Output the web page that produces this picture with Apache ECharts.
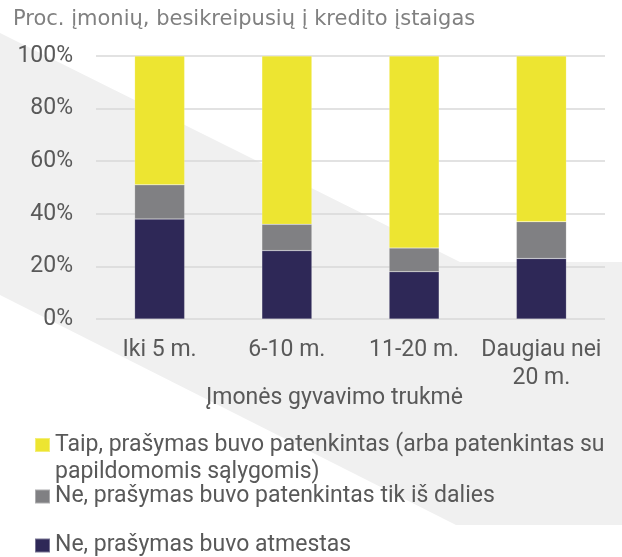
<!DOCTYPE html>
<html>
<head>
<meta charset="utf-8">
<script src="https://cdn.jsdelivr.net/npm/echarts@6/dist/echarts.min.js"></script>
<style>
  html, body { margin: 0; padding: 0; background: #fff; }
  #chart { width: 622px; height: 557px; }
</style>
</head>
<body>
<div id="chart"></div>
<script>
// data
var categories = ["Iki 5 m.", "6-10 m.", "11-20 m.", "Daugiau nei 20 m."];
var yesValues = [49, 64, 73, 63];
var partlyValues = [13, 10, 9, 14];
var rejectedValues = [38, 26, 18, 23];
var yTicks = [0, 20, 40, 60, 80, 100];

var seriesNames = [
  "Taip, prašymas buvo patenkintas (arba patenkintas su papildomomis sąlygomis)",
  "Ne, prašymas buvo patenkintas tik iš dalies",
  "Ne, prašymas buvo atmestas"
];

var font = "Roboto";
var myChart = echarts.init(document.getElementById("chart"));

// one legend per item, so the wrapped first item keeps its icon on line one
function legendAt(name, top) {
  return {
    data: [name],
    orient: "vertical",
    left: 34,
    top: top,
    padding: 0,
    icon: "rect",
    itemWidth: 15,
    itemHeight: 14,
    itemGap: 5,
    selectedMode: false,
    formatter: function (n) {
      if (n.indexOf(" papildomomis") < 0) return n;
      // blank first line keeps the icon level with the first text line
      return "\n" + n.replace(" papildomomis", "\npapildomomis");
    },
    textStyle: {
      fontFamily: font,
      fontSize: 23,
      color: "#595959",
      lineHeight: 27
    }
  };
}

var option = {
  animation: false,
  title: {
    text: "Proc. įmonių, besikreipusių į kredito įstaigas",
    left: 13,
    top: 9,
    padding: 0,
    textStyle: {
      fontFamily: "DejaVu Sans",
      fontSize: 21,
      fontWeight: "normal",
      color: "#808080"
    }
  },
  graphic: [
    {
      type: "polygon",
      z: -10,
      silent: true,
      shape: {
        points: [[0, 33], [460, 262], [622, 262], [622, 525], [456, 525], [0, 295]]
      },
      style: { fill: "#f0f0f0" }
    }
  ],
  legend: [
    legendAt(seriesNames[0], 404.5),
    legendAt(seriesNames[1], 483),
    legendAt(seriesNames[2], 532)
  ],
  grid: {
    left: 96,
    right: 17,
    top: 56,
    bottom: 238,
    containLabel: false
  },
  xAxis: {
    type: "category",
    data: categories,
    axisLine: { show: false },
    axisTick: { show: false },
    name: "Įmonės gyvavimo trukmė",
    nameLocation: "middle",
    nameGap: 68,
    nameMoveOverlap: false,
    nameTextStyle: {
      fontFamily: font,
      fontSize: 23,
      color: "#595959",
      padding: [0, 32, 0, 0]
    },
    axisLabel: {
      fontFamily: font,
      fontSize: 23,
      color: "#595959",
      lineHeight: 28,
      margin: 17,
      interval: 0,
      formatter: function (v) {
        return v.replace("nei ", "nei\n");
      }
    }
  },
  yAxis: {
    type: "value",
    min: yTicks[0],
    max: yTicks[yTicks.length - 1],
    interval: 20,
    axisLabel: {
      fontFamily: font,
      fontSize: 23,
      color: "#595959",
      margin: 23,
      formatter: "{value}%"
    },
    splitLine: { lineStyle: { color: "#d9d9d9", width: 1.5 } }
  },
  series: [
    {
      name: seriesNames[2],
      type: "bar",
      stack: "total",
      barWidth: 50,
      itemStyle: { color: "#2e2857", borderColor: "rgba(255,255,255,0.35)", borderWidth: 0.5 },
      data: rejectedValues
    },
    {
      name: seriesNames[1],
      type: "bar",
      stack: "total",
      barWidth: 50,
      itemStyle: { color: "#808083", borderColor: "rgba(255,255,255,0.35)", borderWidth: 0.5 },
      data: partlyValues
    },
    {
      name: seriesNames[0],
      type: "bar",
      stack: "total",
      barWidth: 50,
      itemStyle: { color: "#ede531", borderColor: "rgba(255,255,255,0.35)", borderWidth: 0.5 },
      data: yesValues
    }
  ]
};

option && myChart.setOption(option);
</script>
</body>
</html>
